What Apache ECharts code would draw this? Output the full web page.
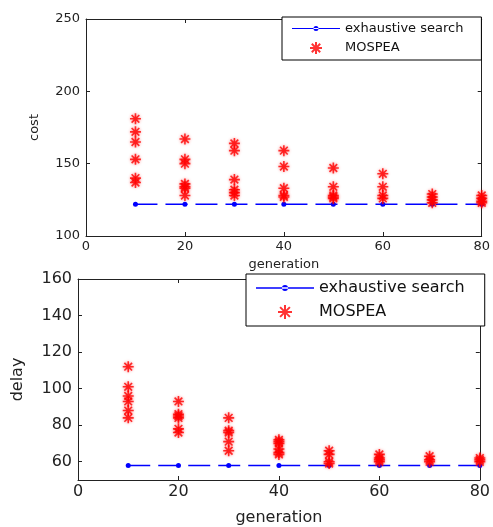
<!DOCTYPE html>
<html>
<head>
<meta charset="utf-8">
<script src="https://cdn.jsdelivr.net/npm/echarts@6/dist/echarts.min.js"></script>
<style>
  html, body { margin: 0; padding: 0; background: #fff; }
  #main { width: 493px; height: 527px; }
</style>
</head>
<body>
<div id="main"></div>
<script>
var chart = echarts.init(document.getElementById('main'));

/* ---------- data ---------- */
var generations = [10, 20, 30, 40, 50, 60, 70, 80];

// exhaustive search optimum
var exhaustCost = [122, 122, 122, 122, 122, 122, 122, 122];
var exhaustDelay = [58, 58, 58, 58, 58, 58, 58, 58];

// MOSPEA solutions per generation
var mospeaCost = [
    [181, 172, 165, 153, 140, 137],
    [167, 153, 150, 136, 134, 133, 128],
    [164, 159, 139, 132, 130, 128],
    [159, 148, 133, 128, 127],
    [147, 134, 128, 127, 126],
    [143, 134, 128, 126],
    [129, 127, 125, 123],
    [128, 126, 124, 123]
];
var mospeaDelay = [
    [112, 101, 96, 93, 88, 84],
    [93, 86, 85, 84, 78, 76],
    [84, 77, 76, 71, 66],
    [72, 71, 70, 67, 65, 64],
    [66, 64, 60, 59],
    [64, 62, 61, 60],
    [63, 61, 60],
    [62, 61, 60]
];

var xTicks = [0, 20, 40, 60, 80];
var costTicks = [100, 150, 200, 250];
var delayTicks = [60, 80, 100, 120, 140, 160];

/* ---------- helpers ---------- */
function pairs(xs, ys) {
    return xs.map(function (x, i) { return [x, ys[i]]; });
}
function scatterPairs(xs, groups) {
    var out = [];
    groups.forEach(function (g, i) {
        g.forEach(function (v) { out.push([xs[i], v]); });
    });
    return out;
}

var starPath = 'path://M0,5L10,5M5,0L5,10M1.5,1.5L8.5,8.5M8.5,1.5L1.5,8.5';
// legend icon: thin line with a small dot in the middle
var lineDotIcon = 'path://M0,4.4L48,4.4L48,5.6L0,5.6Z M21.5,5A2.5,2.5 0 1,0 26.5,5A2.5,2.5 0 1,0 21.5,5Z';
var axisColor = '#222';
var font = 'DejaVu Sans';

function mainX(grid, fs, gap) {
    return {
        type: 'value', gridIndex: grid, min: 0, max: 80, interval: 20,
        name: 'generation', nameLocation: 'middle', nameGap: gap,
        nameTextStyle: { color: axisColor, fontSize: fs, fontFamily: font },
        axisLine: { show: true, onZero: false, lineStyle: { color: axisColor, width: 1 } },
        axisTick: { show: true, inside: true, length: 4, lineStyle: { color: axisColor } },
        axisLabel: { color: axisColor, fontSize: fs, fontFamily: font, margin: 4, customValues: xTicks },
        splitLine: { show: false }
    };
}
function mirrorX(grid) {
    return {
        type: 'value', gridIndex: grid, min: 0, max: 80, interval: 20, position: 'top',
        axisLine: { show: true, onZero: false, lineStyle: { color: axisColor, width: 1 } },
        axisTick: { show: true, inside: true, length: 4, lineStyle: { color: axisColor } },
        axisLabel: { show: false }, splitLine: { show: false }
    };
}
function mainY(grid, name, min, max, interval, ticks, fs, gap) {
    return {
        type: 'value', gridIndex: grid, min: min, max: max, interval: interval,
        name: name, nameLocation: 'middle', nameGap: gap,
        nameTextStyle: { color: axisColor, fontSize: fs, fontFamily: font },
        axisLine: { show: true, onZero: false, lineStyle: { color: axisColor, width: 1 } },
        axisTick: { show: true, inside: true, length: 4, customValues: ticks, lineStyle: { color: axisColor } },
        axisLabel: { color: axisColor, fontSize: fs, fontFamily: font, margin: 6, customValues: ticks },
        splitLine: { show: false }
    };
}
function mirrorY(grid, min, max, interval, ticks) {
    return {
        type: 'value', gridIndex: grid, min: min, max: max, interval: interval, position: 'right',
        axisLine: { show: true, onZero: false, lineStyle: { color: axisColor, width: 1 } },
        axisTick: { show: true, inside: true, length: 4, customValues: ticks, lineStyle: { color: axisColor } },
        axisLabel: { show: false }, splitLine: { show: false }
    };
}

function exhaustSeries(xi, yi, data) {
    return {
        name: 'exhaustive search', type: 'line', xAxisIndex: xi, yAxisIndex: yi,
        data: data, symbol: 'circle', symbolSize: 5, showSymbol: true,
        color: '#0000ff',
        lineStyle: { color: '#0000ff', width: 1.5, type: [22, 8] },
        itemStyle: { color: '#0000ff' },
        animation: false, z: 2
    };
}
function mospeaSeries(xi, yi, data) {
    return {
        name: 'MOSPEA', type: 'scatter', xAxisIndex: xi, yAxisIndex: yi,
        data: data, symbol: starPath, symbolSize: 11, symbolKeepAspect: true,
        color: '#ff0000',
        itemStyle: {
            color: 'transparent', borderColor: '#ff0000', borderWidth: 1.6,
            shadowBlur: 3, shadowColor: 'rgba(255,0,0,0.6)'
        },
        animation: false, z: 3
    };
}

function legendData() {
    return [
        { name: 'exhaustive search', icon: lineDotIcon, itemStyle: { color: '#0000ff', borderWidth: 0 } },
        { name: 'MOSPEA' }
    ];
}

var option = {
    backgroundColor: '#fff',
    animation: false,
    grid: [
        { left: 86, right: 11, top: 19, height: 217 },
        { left: 78, right: 8, top: 279, height: 207 }
    ],
    legend: [{
        orient: 'vertical', left: 282, top: 17,
        padding: [5, 18, 5, 10], itemGap: 6,
        itemWidth: 48, itemHeight: 12,
        backgroundColor: '#fff', borderColor: '#000', borderWidth: 1, borderRadius: 0,
        textStyle: { color: '#111', fontSize: 13, fontFamily: font },
        data: legendData()
    }, {
        orient: 'vertical', left: 246, top: 274,
        padding: [6, 20, 6, 10], itemGap: 8,
        itemWidth: 58, itemHeight: 14,
        backgroundColor: '#fff', borderColor: '#000', borderWidth: 1, borderRadius: 0,
        textStyle: { color: '#111', fontSize: 16, fontFamily: font },
        data: legendData()
    }],
    xAxis: [mainX(0, 13, 22), mirrorX(0), mainX(1, 16, 30), mirrorX(1)],
    yAxis: [
        mainY(0, 'cost', 100, 250, 50, costTicks, 13, 45),
        mirrorY(0, 100, 250, 50, costTicks),
        mainY(1, 'delay', 50, 160, 10, delayTicks, 16, 52),
        mirrorY(1, 50, 160, 10, delayTicks)
    ],
    series: [
        exhaustSeries(0, 0, pairs(generations, exhaustCost)),
        mospeaSeries(0, 0, scatterPairs(generations, mospeaCost)),
        exhaustSeries(2, 2, pairs(generations, exhaustDelay)),
        mospeaSeries(2, 2, scatterPairs(generations, mospeaDelay))
    ]
};

chart.setOption(option);
</script>
</body>
</html>
